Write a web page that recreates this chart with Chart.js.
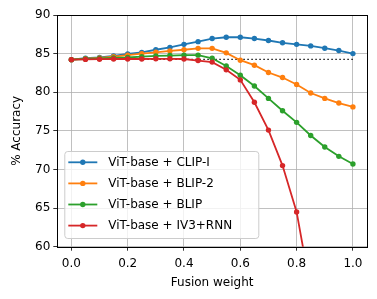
<!DOCTYPE html>
<html>
<head>
<meta charset="utf-8">
<script src="https://cdn.jsdelivr.net/npm/chart.js@4.4.1/dist/chart.umd.min.js"></script>
<style>
html,body{margin:0;padding:0;background:#fff;}
#wrap{width:377px;height:299px;position:relative;}
</style>
</head>
<body>
<div id="wrap"><canvas id="c" width="377" height="299"></canvas></div>
<script>
const weights = [0,0.05,0.1,0.15,0.2,0.25,0.3,0.35,0.4,0.45,0.5,0.55,0.6,0.65,0.7,0.75,0.8,0.85,0.9,0.95,1.0];
const clipI  = [84.22,84.4,84.5,84.7,84.95,85.15,85.5,85.8,86.2,86.55,86.95,87.12,87.12,86.95,86.7,86.4,86.2,86.0,85.7,85.4,85.0];
const blip2  = [84.22,84.35,84.45,84.6,84.8,85.0,85.17,85.35,85.5,85.68,85.68,85.1,84.15,83.5,82.55,81.9,81.0,79.9,79.2,78.6,78.1];
const blip   = [84.22,84.3,84.38,84.45,84.5,84.6,84.7,84.75,84.8,84.8,84.4,83.4,82.2,80.8,79.2,77.6,76.1,74.4,72.9,71.7,70.7];
const iv3rnn = [84.22,84.25,84.28,84.3,84.3,84.3,84.33,84.33,84.3,84.1,83.9,82.9,81.6,78.7,75.1,70.5,64.5,54.4,46.0,38.0,30.0];
const baseline = 84.25;
const seriesNames = ["ViT-base + CLIP-I","ViT-base + BLIP-2","ViT-base + BLIP","ViT-base + IV3+RNN"];
const colors = ["#1f77b4","#ff7f0e","#2ca02c","#d62728"];
const xTicks = [0,0.2,0.4,0.6,0.8,1.0];
const yTicks = [60,65,70,75,80,85,90];
const xLabel = "Fusion weight";
const yLabel = "% Accuracy";

const FONT = "'DejaVu Sans', sans-serif";
const series = [clipI, blip2, blip, iv3rnn];
const datasets = series.map((vals,i)=>({
  label: seriesNames[i],
  data: weights.map((w,j)=>({x:w,y:vals[j]})),
  borderColor: colors[i],
  backgroundColor: colors[i],
  borderWidth: 1.8,
  pointRadius: 2.7,
  pointBorderWidth: 0,
  pointHoverRadius: 2.7,
  tension: 0,
  order: 4-i
}));
datasets.push({
  label: "baseline",
  data: [{x:weights[0],y:baseline},{x:weights[weights.length-1],y:baseline}],
  borderColor: "#000",
  borderWidth: 1.2,
  borderDash: [1.4,2.6],
  pointRadius: 0,
  order: 5
});

const framePlugin = {
  id: 'frame',
  afterDatasetsDraw(chart){
    const {ctx, chartArea:a} = chart;
    ctx.save();
    ctx.strokeStyle = '#000';
    ctx.lineWidth = 1;
    ctx.strokeRect(Math.round(a.left)+0.5, Math.round(a.top)+0.5, Math.round(a.right-a.left), Math.round(a.bottom-a.top));
    ctx.restore();
  },
  afterDraw(chart){
    const {ctx, chartArea:a} = chart;
    const x0 = a.left + 7, y0 = 151, w = 194, h = 87;
    ctx.save();
    ctx.globalAlpha = 0.8;
    ctx.fillStyle = '#fff';
    ctx.strokeStyle = '#cccccc';
    ctx.lineWidth = 1;
    ctx.beginPath();
    ctx.roundRect(x0+0.5, y0+0.5, w, h, 3);
    ctx.fill();
    ctx.globalAlpha = 1;
    ctx.stroke();
    ctx.font = "12px " + FONT;
    ctx.textBaseline = 'middle';
    ctx.fillStyle = '#000';
    seriesNames.forEach((n,i)=>{
      const cy = 162.3 + i*21.1;
      ctx.strokeStyle = colors[i];
      ctx.lineWidth = 1.8;
      ctx.beginPath();
      ctx.moveTo(x0+4, cy); ctx.lineTo(x0+33, cy); ctx.stroke();
      ctx.fillStyle = colors[i];
      ctx.beginPath(); ctx.arc(x0+18.5, cy, 2.7, 0, Math.PI*2); ctx.fill();
      ctx.fillStyle = '#000';
      ctx.fillText(n, x0+44, cy+0.5);
    });
    ctx.restore();
  }
};

new Chart(document.getElementById('c'), {
  type: 'line',
  data: { datasets },
  options: {
    responsive: false,
    animation: false,
    devicePixelRatio: 1,
    layout: { padding: { left: 0, right: 10, top: 15, bottom: 0 } },
    plugins: { legend: { display: false }, tooltip: { enabled: false } },
    scales: {
      x: {
        type: 'linear', min: -0.05, max: 1.05,
        afterBuildTicks(s){ s.ticks = xTicks.map(v=>({value:v})); },
        afterFit(s){ s.height = 52.3; },
        grid: { color: '#b0b0b0', lineWidth: 0.8, tickLength: 4, tickColor: '#000', drawTicks: true },
        border: { display: false },
        ticks: { font: { family: FONT, size: 12 }, color: '#000', padding: 5.5, maxRotation: 0,
                 callback: v => Number(v).toFixed(1) },
        title: { display: true, text: xLabel, font: { family: FONT, size: 12 }, color: '#000', padding: { top: 2, bottom: 8.5 } }
      },
      y: {
        type: 'linear', min: 60, max: 90,
        afterBuildTicks(s){ s.ticks = yTicks.map(v=>({value:v})); },
        afterFit(s){ s.width = 57.3; },
        grid: { color: '#b0b0b0', lineWidth: 0.8, tickLength: 4, tickColor: '#000', drawTicks: true },
        border: { display: false },
        ticks: { font: { family: FONT, size: 12 }, color: '#000', padding: 3 },
        title: { display: true, text: yLabel, font: { family: FONT, size: 12 }, color: '#000', padding: { top: 9.5, bottom: 0 } }
      }
    }
  },
  plugins: [framePlugin]
});
</script>
</body>
</html>
